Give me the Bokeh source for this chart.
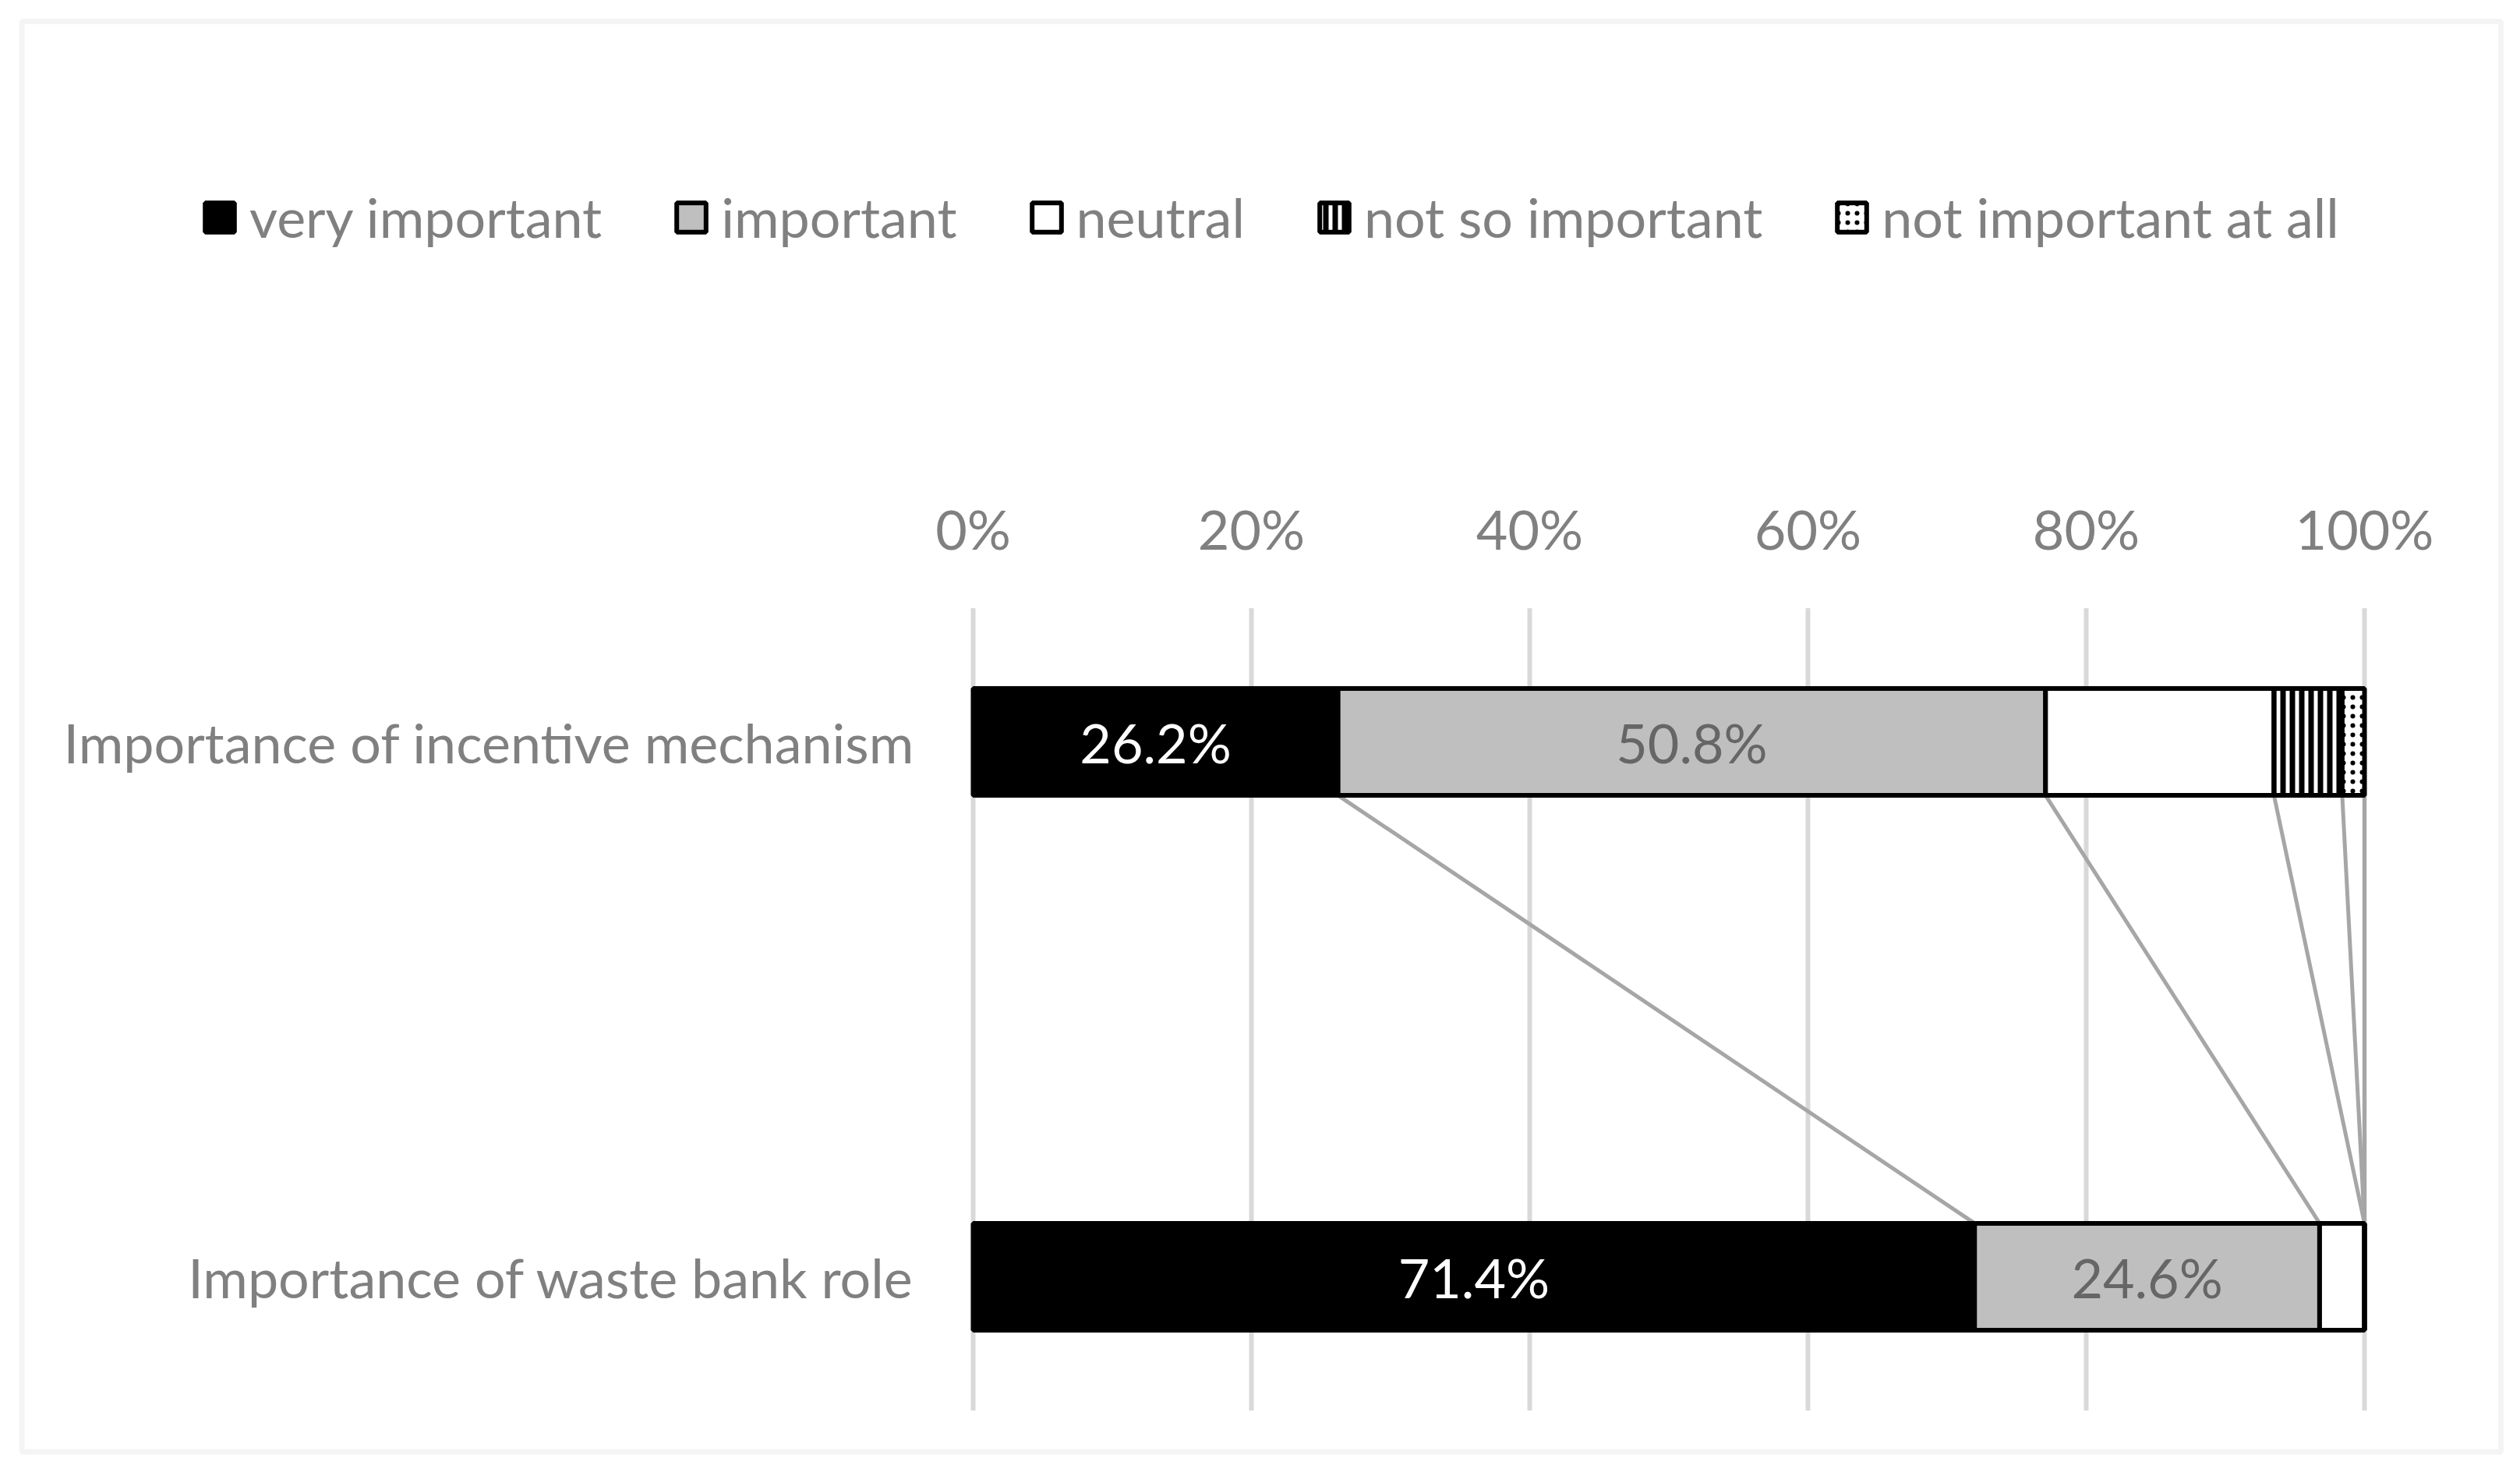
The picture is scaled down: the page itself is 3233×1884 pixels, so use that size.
from bokeh.plotting import figure
from bokeh.models import (Range1d, FixedTicker, PrintfTickFormatter, Legend, LegendItem,
                          ColumnDataSource, BoxAnnotation, LinearAxis)
from bokeh.core.properties import value
from bokeh.embed import file_html
from bokeh.resources import INLINE

# ---- data ----
questions = ["Importance of waste bank role", "Importance of incentive mechanism"]
levels = ["very important", "important", "neutral", "not so important", "not important at all"]
waste_bank = [71.4, 24.6, 3.2, 0.0, 0.0]
incentive = [26.2, 50.8, 16.4, 4.9, 1.6]
x_ticks = [0, 20, 40, 60, 80, 100]
labelled_levels = ["very important", "important"]

FONT = "Lato"
FS = "70px"
GRAY_TEXT = "#808080"

fills = ["#000000", "#bfbfbf", "#ffffff", "#000000", "#ffffff"]
hatches = [None, None, None, "vertical_line", "dot"]
hatch_cols = [None, None, None, "#ffffff", "#000000"]
label_cols = {"very important": "#ffffff", "important": "#666666"}

# ---- layout (pixels) ----
W, H = 3233, 1884
X0PX, X100PX = 1248, 3033          # 0% and 100% positions
Y1PX, Y0PX = 951, 1637             # row centres (row 1 = top, row 0 = bottom)
ppu = (X100PX - X0PX) / 100.0
ppy = (Y0PX - Y1PX) / 1.0
xr = Range1d(-X0PX / ppu, (W - X0PX) / ppu)
yr = Range1d(-(H - Y0PX) / ppy, 1 + Y1PX / ppy)
plot_top, plot_bottom = 1.25, -0.25

p = figure(width=W, height=H, output_backend="svg", toolbar_location=None,
           x_range=xr, y_range=yr, x_axis_location=None, y_axis_location=None,
           min_border=0, min_border_left=0, min_border_right=0,
           min_border_top=0, min_border_bottom=0)
p.outline_line_color = None
p.background_fill_color = "white"
p.border_fill_color = "white"
p.xgrid.visible = False
p.ygrid.visible = False

# x axis (top, percent)
xa = LinearAxis(fixed_location=plot_top, ticker=FixedTicker(ticks=x_ticks),
                formatter=PrintfTickFormatter(format="%d%%"))
xa.axis_line_color = None
xa.major_tick_line_color = None
xa.minor_tick_line_color = None
xa.major_tick_in = 0
xa.major_tick_out = 0
xa.major_label_standoff = 60
xa.major_label_text_font = FONT
xa.major_label_text_font_size = FS
xa.major_label_text_color = GRAY_TEXT
p.add_layout(xa, "above")

# y axis (categories)
ya = LinearAxis(fixed_location=0, ticker=FixedTicker(ticks=list(range(len(questions)))))
ya.major_label_overrides = {i: q for i, q in enumerate(questions)}
ya.axis_line_color = None
ya.major_tick_line_color = None
ya.minor_tick_line_color = None
ya.major_tick_in = 0
ya.major_tick_out = 0
ya.major_label_standoff = 75
ya.major_label_text_font = FONT
ya.major_label_text_font_size = FS
ya.major_label_text_color = GRAY_TEXT
p.add_layout(ya, "left")

# vertical gridlines at the tick values
p.segment(x0=x_ticks, x1=x_ticks, y0=[plot_bottom] * len(x_ticks), y1=[plot_top] * len(x_ticks),
          line_color="#d9d9d9", line_width=6)

# cumulative positions (100% stacked: normalised by row total)
rows = {0: waste_bank, 1: incentive}
cum = {}
for r, vals in rows.items():
    tot = sum(vals)
    c = []
    s = 0.0
    for v in vals:
        w = v / tot * 100.0
        c.append((s, s + w))
        s += w
    cum[r] = c

bar_h = 0.2

# series lines
seg_x0 = [cum[1][i][1] for i in range(len(levels))]
seg_x1 = [cum[0][i][1] for i in range(len(levels))]
p.segment(x0=seg_x0, y0=[1 - bar_h / 2] * len(levels), x1=seg_x1, y1=[bar_h / 2] * len(levels),
          line_color="#a6a6a6", line_width=5)

items = []
for i, lev in enumerate(levels):
    src = ColumnDataSource(dict(
        y=[0, 1],
        left=[cum[0][i][0], cum[1][i][0]],
        right=[cum[0][i][1], cum[1][i][1]],
    ))
    kw = dict(y="y", left="left", right="right", height=bar_h, source=src,
              fill_color=fills[i], line_color="#000000", line_width=6)
    if hatches[i]:
        kw.update(hatch_pattern=hatches[i], hatch_color=hatch_cols[i],
                  hatch_scale=12, hatch_weight=5)
    r = p.hbar(**kw)
    items.append(LegendItem(label=lev, renderers=[r]))

# data labels
for lev in labelled_levels:
    i = levels.index(lev)
    xs, ys, txt = [], [], []
    for r, vals in rows.items():
        xs.append((cum[r][i][0] + cum[r][i][1]) / 2)
        ys.append(r)
        txt.append("%.1f%%" % vals[i])
    p.text(x=xs, y=ys, text=txt, text_align="center", text_baseline="middle",
           text_font=value(FONT), text_font_size=FS, text_color=label_cols[lev])

legend = Legend(items=items, orientation="horizontal",
                location=(258, H - 320),
                glyph_width=47, glyph_height=47, label_height=47,
                label_standoff=15, spacing=91, padding=0, margin=0,
                label_text_font=FONT, label_text_font_size=FS,
                label_text_color=GRAY_TEXT,
                border_line_color=None, background_fill_alpha=0)
p.add_layout(legend, "center")

# chart border
p.add_layout(BoxAnnotation(left=27.5, right=3208, top=27, bottom=1861.5,
                           left_units="canvas", right_units="canvas",
                           top_units="canvas", bottom_units="canvas",
                           fill_alpha=0, line_color="#d9d9d9", line_width=7))

open("out.html", "w").write(file_html(p, INLINE))
